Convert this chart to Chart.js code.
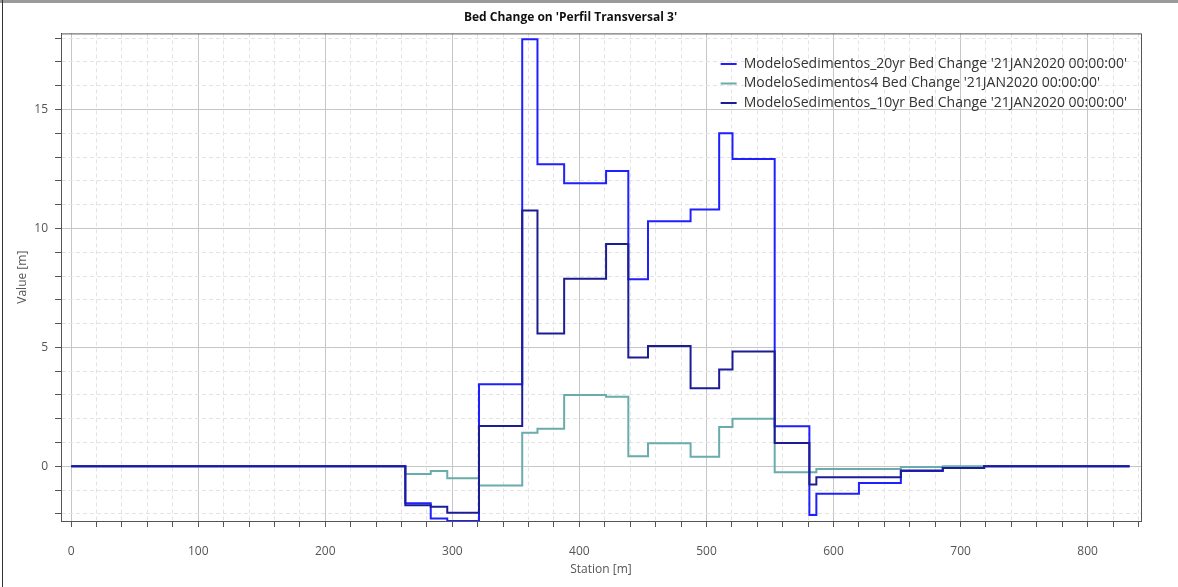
<!DOCTYPE html>
<html>
<head>
<meta charset="utf-8">
<title>Bed Change</title>
<script src="https://cdn.jsdelivr.net/npm/chart.js@4.4.0/dist/chart.umd.min.js"></script>
<style>
  html, body { margin: 0; padding: 0; background: #fff; }
  #wrap { position: relative; width: 1178px; height: 587px; overflow: hidden; }
  #edgeTop { position: absolute; left: 0; top: 0; width: 1178px; height: 3px; background: #9a9a9a; }
  #edgeLeft { position: absolute; left: 2px; top: 0; width: 1px; height: 587px; background: #333; }
  canvas { position: absolute; left: 0; top: 0; }
</style>
</head>
<body>
<div id="wrap">
  <canvas id="bedChart" width="1178" height="587"></canvas>
  <div id="edgeTop"></div>
  <div id="edgeLeft"></div>
</div>
<script>
// Estaciones donde empieza cada tramo (el último es el final del perfil)
const stations = [0, 263, 283, 296, 321, 355, 367, 388, 421, 438.5, 454, 487.5, 510, 520.5, 553.7, 581, 586.5, 620, 653, 686, 718.5, 833];

// Cambio de lecho [m] para cada tramo
const bedChange20yr = [0, -1.55, -2.2, -2.3, 3.45, 17.95, 12.7, 11.9, 12.42, 7.86, 10.3, 10.8, 14.0, 12.92, 1.68, -2.05, -1.15, -0.7, -0.2, -0.07, 0, 0];
const bedChange4 = [0, -0.32, -0.2, -0.5, -0.81, 1.41, 1.58, 3.0, 2.92, 0.42, 0.97, 0.4, 1.65, 2.0, -0.25, -0.25, -0.11, -0.11, -0.03, 0, 0, 0];
const bedChange10yr = [0, -1.64, -1.7, -1.95, 1.69, 10.75, 5.58, 7.88, 9.35, 4.57, 5.06, 3.28, 4.07, 4.83, 0.98, -0.77, -0.46, -0.46, -0.18, -0.07, 0, 0];

const seriesNames = [
    "ModeloSedimentos_20yr Bed Change '21JAN2020 00:00:00'",
    "ModeloSedimentos4 Bed Change '21JAN2020 00:00:00'",
    "ModeloSedimentos_10yr Bed Change '21JAN2020 00:00:00'"
];

const xTickStep = 20;
const xLabelStep = 100;
const yTickStep = 1;
const yLabelStep = 5;

function toPoints(values) {
    return stations.map((s, i) => ({ x: s, y: values[i] }));
}

// Marco del área de dibujo
const plotFrame = {
    id: 'plotFrame',
    afterDraw(chart) {
        const a = chart.chartArea;
        const ctx = chart.ctx;
        ctx.save();
        ctx.strokeStyle = '#555';
        ctx.lineWidth = 1;
        ctx.strokeRect(a.left + 0.5, a.top + 0.5, a.width, a.height);
        ctx.restore();
    }
};

// Leyenda dentro del gráfico, arriba a la derecha
const legendCorner = {
    id: 'legendCorner',
    beforeDraw(chart) {
        const lg = chart.legend;
        const a = chart.chartArea;
        if (!lg) return;
        lg.left = a.right - lg.width - 4;
        lg.right = lg.left + lg.width;
        lg.top = a.top + 18;
    }
};

function gridColor(step) {
    return (ctx) => (ctx.tick && Math.abs(ctx.tick.value % step) > 1e-9) ? '#e3e3e3' : '#c6c6c6';
}
function gridDash(step) {
    return (ctx) => (ctx.tick && Math.abs(ctx.tick.value % step) > 1e-9) ? [4, 3] : [];
}

const ctx = document.getElementById('bedChart').getContext('2d');

const bedChart = new Chart(ctx, {
    type: 'line',
    data: {
        datasets: [{
            label: seriesNames[0],
            data: toPoints(bedChange20yr),
            borderColor: '#1f1fff',
            backgroundColor: '#1f1fff',
            order: 1
        }, {
            label: seriesNames[1],
            data: toPoints(bedChange4),
            borderColor: '#6aabab',
            backgroundColor: '#6aabab',
            order: 2
        }, {
            label: seriesNames[2],
            data: toPoints(bedChange10yr),
            borderColor: '#1c1c96',
            backgroundColor: '#1c1c96',
            order: 0
        }]
    },
    options: {
        responsive: false,
        animation: false,
        layout: { padding: { left: 0, right: 37, top: 2, bottom: 0 } },
        elements: {
            line: { borderWidth: 2, stepped: 'before', tension: 0 },
            point: { radius: 0, hoverRadius: 0 }
        },
        plugins: {
            title: {
                display: true,
                text: "Bed Change on 'Perfil Transversal 3'",
                color: '#111',
                font: { family: "'Open Sans', sans-serif", size: 12, weight: 'bold' },
                padding: { top: 8, bottom: 9 }
            },
            legend: {
                position: 'chartArea',
                align: 'start',
                labels: {
                    boxWidth: 16,
                    boxHeight: 2,
                    padding: 5.5,
                    color: '#333',
                    font: { family: "'Open Sans', sans-serif", size: 14 },
                    generateLabels(chart) {
                        const items = Chart.defaults.plugins.legend.labels.generateLabels(chart);
                        items.forEach((it) => {
                            it.fillStyle = it.strokeStyle;
                            it.lineWidth = 0;
                        });
                        return items;
                    },
                    sort: (a, b) => a.datasetIndex - b.datasetIndex
                }
            },
            tooltip: { enabled: false }
        },
        scales: {
            x: {
                type: 'linear',
                min: -8,
                max: 842,
                afterFit(scale) { scale.height = 66; },
                title: {
                    display: true,
                    text: 'Station [m]',
                    color: '#555',
                    font: { family: "'Open Sans', sans-serif", size: 12 },
                    padding: { top: 0, bottom: 10 }
                },
                ticks: {
                    stepSize: xTickStep,
                    includeBounds: false,
                    autoSkip: false,
                    maxRotation: 0,
                    padding: 17,
                    color: '#555',
                    font: { family: "'Open Sans', sans-serif", size: 12 },
                    callback: (v) => (v % xLabelStep === 0 ? String(v) : '')
                },
                grid: {
                    color: gridColor(xLabelStep),
                    tickColor: '#555',
                    tickLength: 6
                },
                border: { color: '#555', dash: gridDash(xLabelStep) }
            },
            y: {
                type: 'linear',
                min: -2.3,
                max: 18.2,
                afterFit(scale) { scale.width = 61; },
                title: {
                    display: true,
                    text: 'Value [m]',
                    color: '#555',
                    font: { family: "'Open Sans', sans-serif", size: 12 },
                    padding: { top: 15, bottom: 0 }
                },
                ticks: {
                    stepSize: yTickStep,
                    includeBounds: false,
                    autoSkip: false,
                    padding: 7,
                    color: '#555',
                    font: { family: "'Open Sans', sans-serif", size: 12 },
                    callback: (v) => (v % yLabelStep === 0 ? String(v) : '')
                },
                grid: {
                    color: gridColor(yLabelStep),
                    tickColor: '#555',
                    tickLength: 6
                },
                border: { color: '#555', dash: gridDash(yLabelStep) }
            }
        }
    },
    plugins: [plotFrame, legendCorner]
});
</script>
</body>
</html>
